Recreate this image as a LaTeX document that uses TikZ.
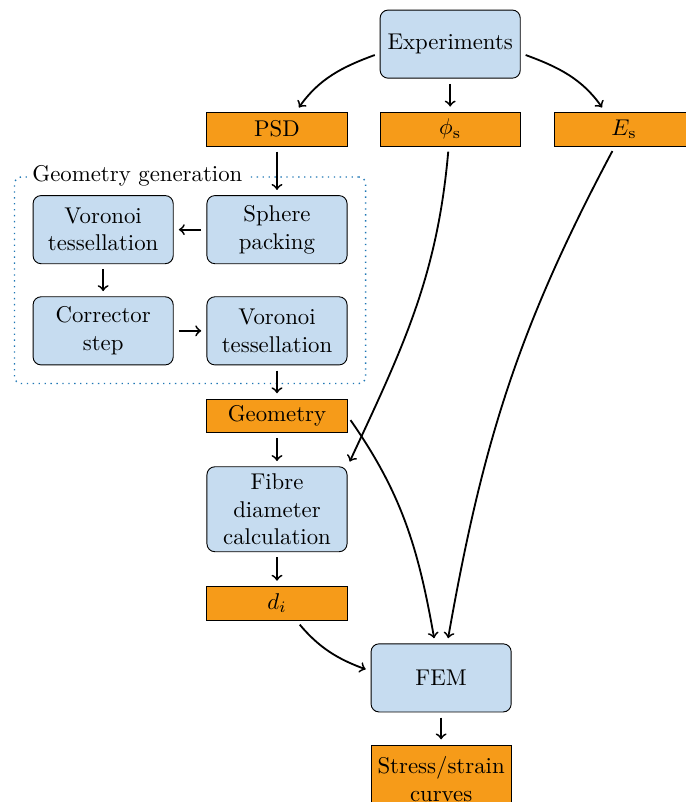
\documentclass[tikz,border=0pt]{standalone}
\usetikzlibrary{fit}
\definecolor{boxblue}{RGB}{198,220,240}
\definecolor{boxorange}{RGB}{246,155,25}
\definecolor{dotblue}{RGB}{31,119,180}
\begin{document}
\begin{tikzpicture}[
  proc/.style={draw, fill=boxblue, rounded corners=3.5pt, align=center, minimum width=2.16cm, minimum height=1.05cm, inner sep=3pt},
  dat/.style={draw, fill=boxorange, align=center, minimum width=2.16cm, minimum height=0.52cm, inner sep=2pt},
  flow/.style={->, thick, shorten >=2.3pt, shorten <=2.3pt}]
\useasboundingbox (0,0) rectangle (10.575,-12.363);
\draw 	(6.94,-0.68) node[proc](exp){Experiments}
		(4.27,-1.99) node[dat](psd){PSD}  (6.94,-1.99) node[dat](phis){$\phi_\mathrm{s}$}
		(9.62,-1.99) node[dat](es){$E_\mathrm{s}$};
\draw 	(1.59,-3.54) node[proc](voro1){Voronoi\\tessellation}  (4.27,-3.54) node[proc](sphere){Sphere\\packing}
		(1.59,-5.10) node[proc](corr){Corrector\\step}  (4.27,-5.10) node[proc](voro2){Voronoi\\tessellation};
\draw 	(4.27,-6.41) node[dat](geom){Geometry}
		(4.27,-7.85) node[proc, minimum height=1.31cm](fibre){Fibre\\diameter\\calculation}
		(4.27,-9.30) node[dat](di){$d_i$}
		(6.80,-10.45) node[proc](fem){FEM}
		(6.80,-12.01) node[dat, minimum height=1.05cm](curves){Stress/strain\\curves};

\node[draw=dotblue, semithick, dotted, rounded corners=3pt, inner sep=0.28cm, fit=(voro1)(sphere)(corr)(voro2)](geogen){};
\node[fill=white, anchor=west, inner sep=2pt] (geolabel) at ([xshift=0.21cm]geogen.north west) {Geometry generation};

\path[flow]
    ([yshift=-4pt]exp.west) edge[out=200, in=55] ([xshift=8.3pt]psd.north)
    (exp) edge (phis)
    ([yshift=-4pt]exp.east) edge[out=-20, in=125] ([xshift=-8.3pt]es.north)
    (psd) edge (sphere)
    (sphere) edge (voro1)
    (voro1) edge (corr)
    (corr) edge (voro2)
    (voro2) edge (geom)
    (geom) edge (fibre)
    (fibre) edge (di)
    (phis) edge[out=-95, in=65] (fibre.north east)
    (es) edge[out=-118, in=80] (fem)
    (geom.east) edge[out=-55, in=100] (fem)
    ([xshift=8.5pt]di.south) edge[out=-50, in=160] ([yshift=3pt]fem.west)
    (fem) edge (curves);
\end{tikzpicture}
\end{document}
